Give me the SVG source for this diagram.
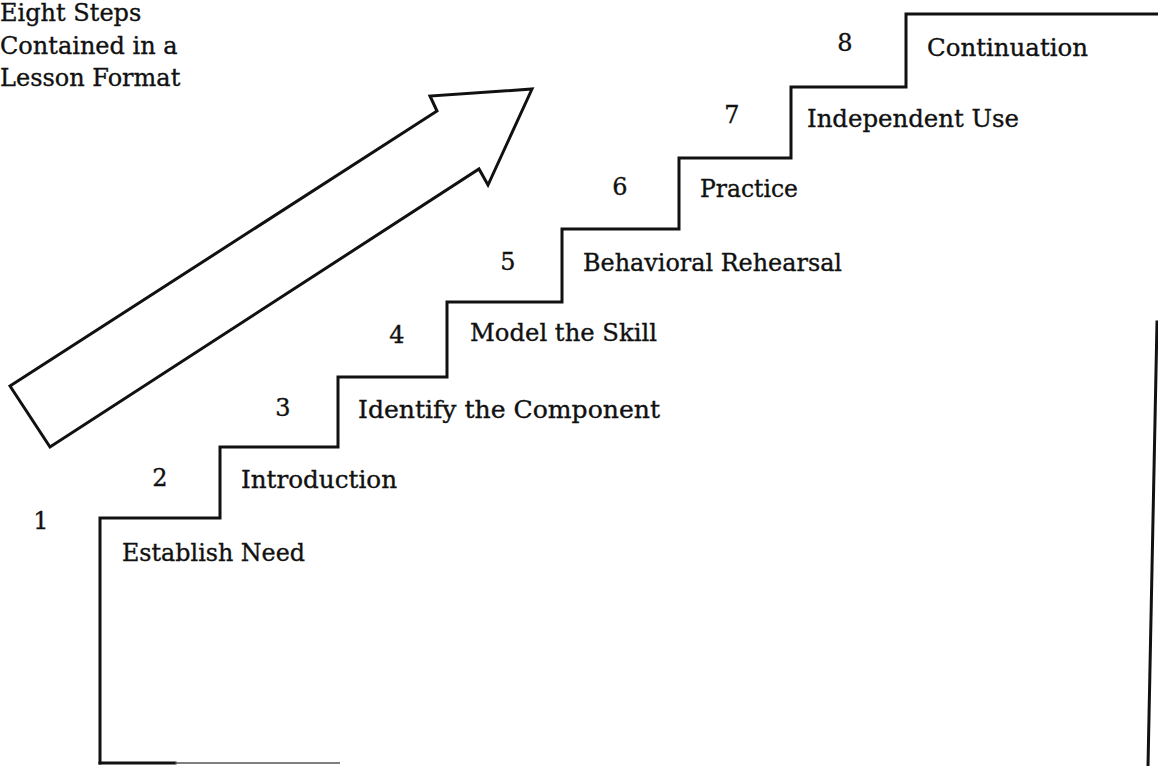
<svg xmlns="http://www.w3.org/2000/svg" width="1158" height="766" viewBox="0 0 1158 766">
  <style>
    .t { font-family: "DejaVu Serif", "Liberation Serif", serif; font-size: 24px; fill: #111; stroke: #111; stroke-width: 0.35; }
    .n { font-family: "DejaVu Serif", "Liberation Serif", serif; font-size: 24px; fill: #111; stroke: #111; stroke-width: 0.35; text-anchor: middle; }
    .ln { fill: none; stroke: #111; stroke-width: 3; stroke-linejoin: miter; stroke-linecap: square; }
  </style>
  <rect width="1158" height="766" fill="#fff"/>

  <g id="title">
    <text class="t" x="0" y="21">Eight Steps</text>
    <text class="t" x="0" y="54">Contained in a</text>
    <text class="t" x="0" y="86">Lesson Format</text>
  </g>

  <g id="arrow">
    <polygon class="ln" stroke-width="2.6" points="10,386 437,111 430,96 532,89 488,185 479,169 50,447"/>
  </g>

  <g id="stairs">
    <path class="ln" d="M100,763 L100,518 L220,518 L220,447 L338,447 L338,377 L447,377 L447,302 L562,302 L562,229 L679,229 L679,158 L791,158 L791,87 L906,87 L906,14 L1158,14"/>
    <path class="ln" d="M1157,322 L1148,766"/>
    <path class="ln" d="M100,763 L175,763"/>
    <path d="M175,763 L340,763" fill="none" stroke="#555" stroke-width="1.5"/>
  </g>

  <g id="step1">
    <text class="n" x="41" y="529">1</text>
    <text class="t" x="122" y="561" textLength="183" lengthAdjust="spacingAndGlyphs">Establish Need</text>
  </g>
  <g id="step2">
    <text class="n" x="160" y="486">2</text>
    <text class="t" x="241" y="488" textLength="156" lengthAdjust="spacingAndGlyphs">Introduction</text>
  </g>
  <g id="step3">
    <text class="n" x="283" y="416">3</text>
    <text class="t" x="358" y="418" textLength="302" lengthAdjust="spacingAndGlyphs">Identify the Component</text>
  </g>
  <g id="step4">
    <text class="n" x="397" y="343">4</text>
    <text class="t" x="470" y="341" textLength="187" lengthAdjust="spacingAndGlyphs">Model the Skill</text>
  </g>
  <g id="step5">
    <text class="n" x="508" y="270">5</text>
    <text class="t" x="583" y="271" textLength="259" lengthAdjust="spacingAndGlyphs">Behavioral Rehearsal</text>
  </g>
  <g id="step6">
    <text class="n" x="620" y="195">6</text>
    <text class="t" x="700" y="197" textLength="98" lengthAdjust="spacingAndGlyphs">Practice</text>
  </g>
  <g id="step7">
    <text class="n" x="732" y="123">7</text>
    <text class="t" x="807" y="127" textLength="212" lengthAdjust="spacingAndGlyphs">Independent Use</text>
  </g>
  <g id="step8">
    <text class="n" x="845" y="51">8</text>
    <text class="t" x="927" y="56" textLength="161" lengthAdjust="spacingAndGlyphs">Continuation</text>
  </g>
</svg>
